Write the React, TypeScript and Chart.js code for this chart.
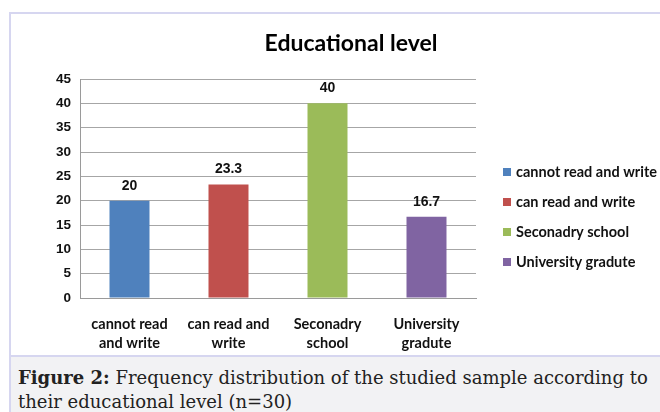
import React, { useEffect, useRef } from "react";
import { Chart, registerables } from "chart.js";

Chart.register(...registerables);

const categories: string[][] = [
  ["cannot read", "and write"],
  ["can read and", "write"],
  ["Seconadry", "school"],
  ["University", "gradute"],
];
const legendLabels: string[] = [
  "cannot read and write",
  "can read and write",
  "Seconadry school",
  "University gradute",
];
const values: number[] = [20, 23.3, 40, 16.7];
const valueLabels: string[] = ["20", "23.3", "40", "16.7"];
const barColors: string[] = ["#4f81bd", "#c0504d", "#9bbb59", "#8064a2"];
const yTicks: number[] = [0, 5, 10, 15, 20, 25, 30, 35, 40, 45];
const chartTitle = "Educational level";

const labelFont = "Lato, 'Open Sans', sans-serif";
const numFont = "'Liberation Sans', Arial, sans-serif";

const overlayPlugin = {
  id: "overlay",
  afterDatasetsDraw(chart: any) {
    const ctx = chart.ctx;
    const meta = chart.getDatasetMeta(0);
    ctx.save();
    // value labels
    ctx.font = `bold 14px ${numFont}`;
    ctx.fillStyle = "#111";
    ctx.textAlign = "center";
    ctx.textBaseline = "middle";
    meta.data.forEach((bar: any, i: number) => {
      ctx.fillText(valueLabels[i], bar.x, bar.y - 15);
    });
    // title
    ctx.font = `bold 23px ${labelFont}`;
    ctx.fillStyle = "#000";
    ctx.fillText(chartTitle, 340, 30);
    // legend
    const area = chart.chartArea;
    const lx = area.right + 27;
    const ly0 = 158;
    const gap = 30;
    ctx.font = `bold 14.5px ${labelFont}`;
    ctx.textAlign = "left";
    legendLabels.forEach((t, i) => {
      const cy = ly0 + i * gap;
      ctx.fillStyle = barColors[i];
      ctx.fillRect(lx, cy - 4, 8, 8);
      ctx.fillStyle = "#111";
      ctx.fillText(t, lx + 13, cy);
    });
    ctx.restore();
  },
};

export default function App() {
  const ref = useRef<HTMLCanvasElement | null>(null);
  useEffect(() => {
    if (!ref.current) return;
    const chart = new Chart(ref.current, {
      type: "bar",
      data: {
        labels: categories,
        datasets: [
          {
            label: chartTitle,
            data: values,
            backgroundColor: barColors,
            borderWidth: 0,
            barPercentage: 0.404,
            categoryPercentage: 1,
          },
        ],
      },
      options: {
        responsive: false,
        animation: false,
        devicePixelRatio: 1,
        layout: { padding: { top: 65, left: 45, right: 184, bottom: 0 } },
        plugins: {
          legend: { display: false },
          title: { display: false },
          tooltip: { enabled: false },
        },
        scales: {
          x: {
            grid: { display: false, drawTicks: false },
            border: { color: "#9a9a9a", width: 1 },
            ticks: {
              color: "#111",
              font: { family: labelFont, size: 14.5, weight: "bold", lineHeight: 1.31 },
              padding: 17,
              maxRotation: 0,
              autoSkip: false,
            },
            afterFit: (s: any) => {
              s.height = 58;
            },
          },
          y: {
            min: 0,
            max: 45,
            afterBuildTicks: (s: any) => {
              s.ticks = yTicks.map((v) => ({ value: v }));
            },
            grid: { color: "#a6a6a6", lineWidth: 1, drawTicks: false },
            border: { color: "#9a9a9a", width: 1 },
            ticks: {
              color: "#111",
              font: { family: numFont, size: 13.5, weight: "bold" },
              padding: 9,
            },
            afterFit: (s: any) => {
              s.width = 24;
            },
          },
        },
      },
      plugins: [overlayPlugin],
    });
    return () => chart.destroy();
  }, []);

  return (
    <div
      style={{
        position: "fixed",
        left: 0,
        top: 0,
        width: 660,
        height: 412,
        overflow: "hidden",
        background: "#fff",
      }}
    >
      <div
        style={{
          position: "absolute",
          left: 9,
          top: 12,
          width: 700,
          height: 420,
          borderLeft: "2px solid #d6d6f0",
          borderTop: "2px solid #d6d6f0",
          boxSizing: "border-box",
        }}
      />
      <canvas
        ref={ref}
        width={649}
        height={342}
        style={{ position: "absolute", left: 11, top: 14, width: 649, height: 342 }}
      />
      <div
        style={{
          position: "absolute",
          left: 9,
          top: 355,
          width: 700,
          height: 60,
          background: "#f2f2f4",
          borderTop: "2px solid #d6d6f0",
          borderLeft: "2px solid #d6d6f0",
          boxSizing: "border-box",
          paddingLeft: 7,
          paddingTop: 9,
          fontFamily: "'DejaVu Serif', serif",
          fontSize: 18,
          lineHeight: "24px",
          color: "#222",
          whiteSpace: "nowrap",
        }}
      >
        <b>Figure 2:</b> Frequency distribution of the studied sample according to
        <br />
        their educational level (n=30)
      </div>
    </div>
  );
}
